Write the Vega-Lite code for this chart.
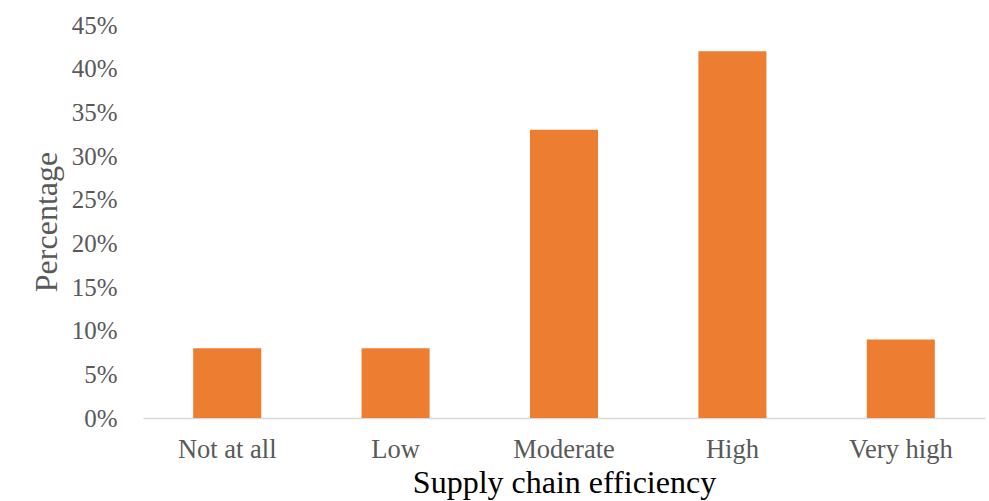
{
  "$schema": "https://vega.github.io/schema/vega-lite/v6.json",
  "autosize": {"type": "none"},
  "width": 842,
  "height": 393,
  "padding": {"left": 143, "top": 25, "right": 4, "bottom": 83},
  "background": "white",
  "config": {
    "view": {"stroke": null},
    "font": "Liberation Serif"
  },
  "data": {
    "values": [
      {"efficiency": "Not at all", "share": 0.08},
      {"efficiency": "Low", "share": 0.08},
      {"efficiency": "Moderate", "share": 0.33},
      {"efficiency": "High", "share": 0.42},
      {"efficiency": "Very high", "share": 0.09}
    ]
  },
  "mark": {"type": "bar", "color": "#ED7D31"},
  "encoding": {
    "x": {
      "field": "efficiency",
      "type": "nominal",
      "sort": null,
      "scale": {"paddingInner": 0.596, "paddingOuter": 0.298},
      "axis": {
        "title": "Supply chain efficiency",
        "titleFont": "Liberation Serif",
        "titleFontSize": 32,
        "titleFontWeight": "normal",
        "titleColor": "#000000",
        "titlePadding": 5,
        "labelAngle": 0,
        "labelFont": "Liberation Serif",
        "labelFontSize": 26.5,
        "labelColor": "#595959",
        "labelPadding": 18,
        "ticks": false,
        "domainColor": "#D9D9D9",
        "domainWidth": 1.5,
        "grid": false
      }
    },
    "y": {
      "field": "share",
      "type": "quantitative",
      "scale": {"domain": [0, 0.45], "nice": false},
      "axis": {
        "title": "Percentage",
        "titleFont": "Liberation Serif",
        "titleFontSize": 32,
        "titleFontWeight": "normal",
        "titleColor": "#595959",
        "titlePadding": 8,
        "format": ".0%",
        "values": [0, 0.05, 0.1, 0.15, 0.2, 0.25, 0.3, 0.35, 0.4, 0.45],
        "labelFont": "Liberation Serif",
        "labelFontSize": 25,
        "labelColor": "#595959",
        "labelPadding": 26,
        "ticks": false,
        "domain": false,
        "grid": false
      }
    }
  }
}
